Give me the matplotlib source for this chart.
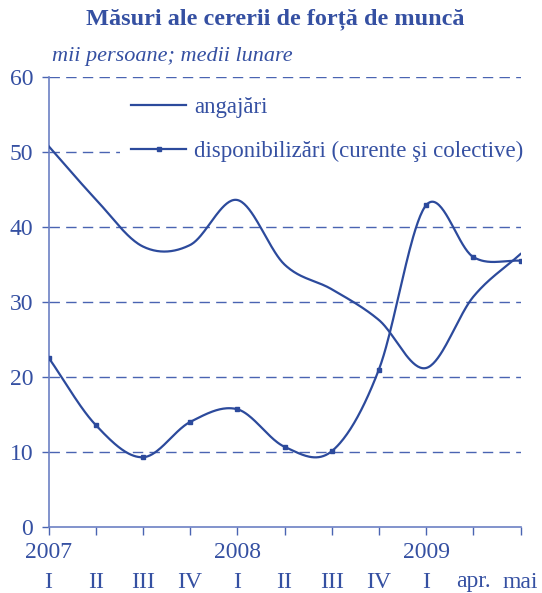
#!/usr/bin/env python3
# -*- coding: utf-8 -*-
"""
Masuri ale cererii de forta de munca - angajari vs disponibilizari
"""
import numpy as np
import matplotlib
matplotlib.use("Agg")
import matplotlib.pyplot as plt
import matplotlib.transforms as mtrans

# data (mii persoane, medii lunare)
years = ["2007", "", "", "", "2008", "", "", "", "2009", "", ""]
periods = ["I", "II", "III", "IV", "I", "II", "III", "IV", "I", "apr.", "mai"]
angajari = [50.8, 43.7, 37.4, 37.6, 43.6, 35.0, 31.7, 27.6, 21.2, 30.7, 36.4]
disponibilizari = [22.6, 13.6, 9.3, 14.0, 15.7, 10.7, 10.1, 21.0, 42.9, 36.0, 35.5]

TXT = "#3550A2"
LIN = "#2C4A9C"
GRID = "#4A64B2"

plt.rcParams["font.family"] = ["Liberation Serif", "DejaVu Serif"]
plt.rcParams["lines.scale_dashes"] = False


def smooth(y, n=40):
    """Catmull-Rom smoothing (like a spreadsheet's smoothed line)."""
    y = np.asarray(y, dtype=float)
    p = np.concatenate([[2 * y[0] - y[1]], y, [2 * y[-1] - y[-2]]])
    xs, ys = [], []
    for i in range(len(y) - 1):
        p0, p1, p2, p3 = p[i], p[i + 1], p[i + 2], p[i + 3]
        t = np.linspace(0, 1, n, endpoint=False)
        m1 = (p2 - p0) / 2.0
        m2 = (p3 - p1) / 2.0
        h00 = 2 * t**3 - 3 * t**2 + 1
        h10 = t**3 - 2 * t**2 + t
        h01 = -2 * t**3 + 3 * t**2
        h11 = t**3 - t**2
        xs.append(i + t)
        ys.append(h00 * p1 + h10 * m1 + h01 * p2 + h11 * m2)
    xs.append([len(y) - 1])
    ys.append([y[-1]])
    return np.concatenate(xs), np.concatenate(ys)


W, H = 542, 593
fig = plt.figure(figsize=(W / 100, H / 100), dpi=100)
ax = fig.add_axes([48.5 / W, 1 - 527 / H, 472 / W, 450 / H])

x = np.arange(len(periods))

# gridlines
for v in range(10, 61, 10):
    ax.axhline(v, color=GRID, lw=1.0, dashes=(7.5, 4.5), zorder=1)

xa, ya = smooth(angajari)
xd, yd = smooth(disponibilizari)
ax.plot(xa, ya, color=LIN, lw=1.6, zorder=3)
ax.plot(xd, yd, color=LIN, lw=1.6, zorder=3)
ax.plot(x, disponibilizari, ls="none", marker="s", ms=3.2, color=LIN,
        zorder=4)

# legend handles
h1, = ax.plot([], [], color=LIN, lw=1.6, label="angajări")
h2, = ax.plot([], [], color=LIN, lw=1.6, marker="s", ms=3.2,
              label="disponibilizări (curente şi colective)")
leg = ax.legend(handles=[h1, h2], loc="upper left",
                bbox_to_anchor=(120 / W, 1 - 86 / H),
                bbox_transform=fig.transFigure, borderaxespad=0,
                borderpad=0.5, frameon=True, fancybox=False,
                facecolor="white", edgecolor="none", framealpha=1,
                handlelength=2.4, handletextpad=0.35, labelspacing=0.98,
                numpoints=1, fontsize=16.5)
for t in leg.get_texts():
    t.set_color(TXT)
leg.set_zorder(5)

ax.set_xlim(0, 10)
ax.set_ylim(0, 60)
ax.set_yticks(range(0, 61, 10))
ax.set_xticks(x)
ax.set_xticklabels([])
ax.tick_params(axis="y", direction="out", length=5, width=1, color=GRID,
               labelcolor=TXT, labelsize=17, pad=6)
ax.tick_params(axis="x", direction="out", length=6, width=1, color=GRID)
for s in ["top", "right"]:
    ax.spines[s].set_visible(False)
for s in ["left", "bottom"]:
    ax.spines[s].set_color("#6C80C4")
    ax.spines[s].set_linewidth(1.2)

# two-row category labels
tr = mtrans.blended_transform_factory(ax.transData, fig.transFigure)
for i in range(len(periods)):
    if years[i]:
        ax.text(i, 1 - 552 / H, years[i], transform=tr, ha="center",
                va="center", fontsize=17, color=TXT)
    ax.text(i, 1 - 582 / H, periods[i], transform=tr, ha="center",
            va="center", fontsize=17, color=TXT)

fig.text(275 / W, 1 - 19 / H, "Măsuri ale cererii de forță de muncă",
         ha="center", va="center", fontsize=17.5, fontweight="bold",
         color=TXT)
fig.text(52 / W, 1 - 56 / H, "mii persoane; medii lunare", ha="left",
         va="center", fontsize=16, style="italic", color=TXT)

fig.savefig("out.png", dpi=100)
